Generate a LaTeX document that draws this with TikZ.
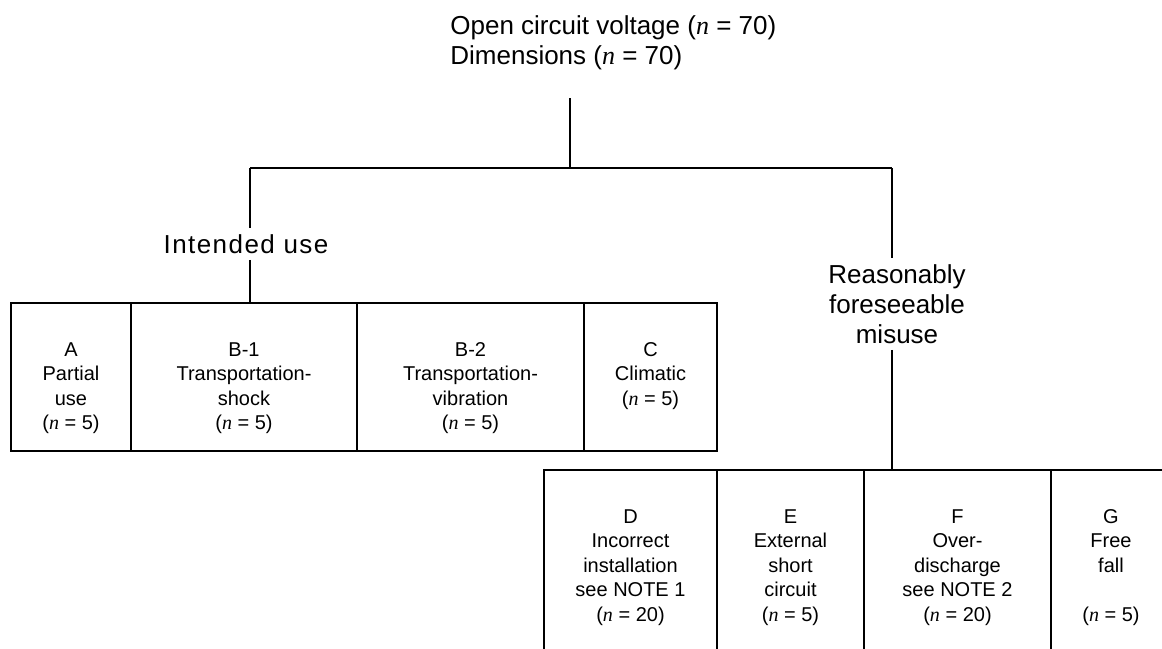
\documentclass[tikz,border=0pt]{standalone}
\usepackage{fontspec}
\setmainfont{Liberation Sans}
\newfontfamily\serifit{Liberation Serif}
\newfontfamily\widefont[LetterSpace=5.5]{Liberation Sans}
\usetikzlibrary{positioning}

\newcommand{\nval}[1]{({\serifit\itshape n} = #1)}
\newcommand{\boxfont}{\fontsize{10}{12.25}\selectfont}
\newcommand{\bigfont}{\fontsize{13}{15}\selectfont}

\begin{document}
\begin{tikzpicture}[
    x=0.5pt, y=-0.5pt,
    every node/.style={align=center},
    cell/.style={draw, line width=1pt, anchor=north west, minimum height=74pt, inner sep=0pt},
    lowcell/.style={cell, minimum height=100pt},
    celltxt/.style={anchor=north, yshift=-20pt, inner sep=0pt, font=\boxfont},
    branch/.style={font=\bigfont, inner sep=3pt},
    wire/.style={line width=1pt}
]
\clip (0,0) rectangle (1162,648);

% top label
\node[font=\bigfont, align=left, anchor=north west, inner sep=0pt] (top) at (450,15)
    {Open circuit voltage \nval{70}\\Dimensions \nval{70}};

% intended use row
\node[cell, minimum width=60pt]   (cellA)    at (10,302)  {};
\node[cell, minimum width=113pt]  (cellBone) at (130,302) {};
\node[cell, minimum width=113.5pt](cellBtwo) at (356,302) {};
\node[cell, minimum width=66.5pt] (cellC)    at (583,302) {};
\node[celltxt] (txtA)    at (cellA.north)    {A\\Partial\\use\\\nval{5}};
\node[celltxt] (txtBone) at (cellBone.north) {B-1\\Transportation-\\shock\\\nval{5}};
\node[celltxt] (txtBtwo) at (cellBtwo.north) {B-2\\Transportation-\\vibration\\\nval{5}};
\node[celltxt] (txtC)    at (cellC.north)    {C\\Climatic\\\nval{5}};

% misuse row
\node[lowcell, minimum width=86.5pt] (cellD) at (543,469)  {};
\node[lowcell, minimum width=73.5pt] (cellE) at (716,469)  {};
\node[lowcell, minimum width=93.5pt] (cellF) at (863,469)  {};
\node[lowcell, minimum width=60pt]   (cellG) at (1050,469) {};
\node[celltxt] (txtD) at (cellD.north) {D\\Incorrect\\installation\\see NOTE 1\\\nval{20}};
\node[celltxt] (txtE) at (cellE.north) {E\\External\\short\\circuit\\\nval{5}};
\node[celltxt] (txtF) at (cellF.north) {F\\Over-\\discharge\\see NOTE 2\\\nval{20}};
\node[celltxt] (txtG) at (cellG.north) {G\\Free\\fall\\~\\\nval{5}};

% branch labels
\node[branch, font=\bigfont\widefont] (intended) at (246,244) {Intended use};
\node[branch] (misuse)   at (897,304) {Reasonably\\foreseeable\\misuse};

% tree lines
\coordinate (stem)   at (570,98);
\coordinate (split)  at (570,168);
\coordinate (lsplit) at (250,168);
\coordinate (rsplit) at (892,168);
\draw[wire] (stem) -- (split);
\draw[wire] (lsplit) -- (rsplit);
\draw[wire] (lsplit) -- (lsplit |- intended.north);
\draw[wire] (lsplit |- intended.south) -- (lsplit |- cellBone.north);
\draw[wire] (rsplit) -- (rsplit |- misuse.north);
\draw[wire] (rsplit |- misuse.south) -- (rsplit |- cellF.north);
\end{tikzpicture}
\end{document}
